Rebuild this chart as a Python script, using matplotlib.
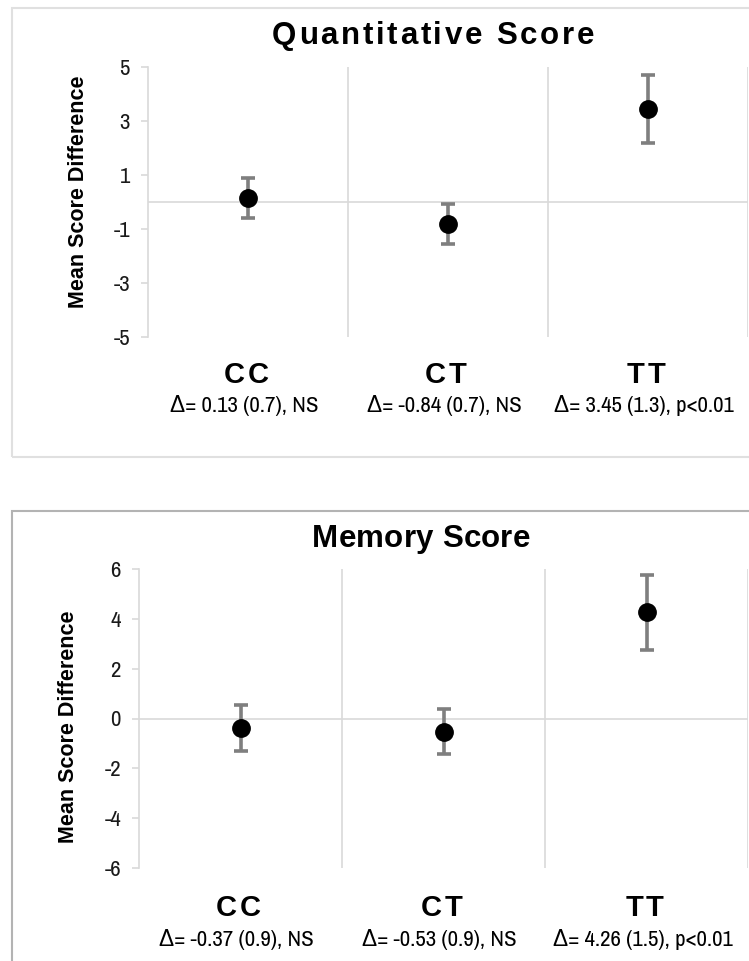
import matplotlib
matplotlib.use("Agg")
import matplotlib.pyplot as plt
from matplotlib.patches import Rectangle
from matplotlib.transforms import blended_transform_factory

categories = ['CC', 'CT', 'TT']
quant_means = [0.13, -0.84, 3.45]
quant_err = [0.75, 0.74, 1.26]
quant_labels = ['Δ= 0.13 (0.7), NS', 'Δ= -0.84 (0.7), NS', 'Δ= 3.45 (1.3), p<0.01']
quant_ticks = [-5, -3, -1, 1, 3, 5]

mem_means = [-0.37, -0.53, 4.26]
mem_err = [0.92, 0.91, 1.50]
mem_labels = ['Δ= -0.37 (0.9), NS', 'Δ= -0.53 (0.9), NS', 'Δ= 4.26 (1.5), p<0.01']
mem_ticks = [-6, -4, -2, 0, 2, 4, 6]

W, H = 749, 961
fig = plt.figure(figsize=(W / 100, H / 100), dpi=100)
NARROW = ['Archivo Narrow', 'Liberation Sans', 'DejaVu Sans']
SANS = ['Liberation Sans', 'DejaVu Sans']
GRID = '#d9d9d9'


def fx(px):
    return px / W


def fy(py):
    return 1 - py / H


renderer = fig.canvas.get_renderer()


def spaced_text(xc_px, yc_px, s, spacing=None, target=None, **kw):
    def width(t):
        tt = fig.text(0, 0, t, **kw)
        w = tt.get_window_extent(renderer).width
        tt.remove()
        return w
    total = width(s)
    n = len(s)
    if target is not None:
        spacing = (target - total) / (n - 1)
    full = total + spacing * (n - 1)
    left = xc_px - full / 2
    for i, ch in enumerate(s):
        if ch == ' ':
            continue
        base = width(s[:i + 1]) - width(ch)
        fig.text(fx(left + base + i * spacing), fy(yc_px), ch, ha='left', va='center', **kw)


# panel boxes
fig.add_artist(Rectangle((fx(12), fy(457)), fx(760) - fx(12), fy(8) - fy(457),
                         transform=fig.transFigure, fill=False, edgecolor='#e0e0e0', lw=1.5))
fig.add_artist(Rectangle((fx(12), fy(990)), fx(760) - fx(12), fy(511) - fy(990),
                         transform=fig.transFigure, fill=False, edgecolor='#b3b3b3', lw=1.5))


def panel(ax_box, means, errs, labels, ticks, title, title_x, title_y, title_w,
          cat_y, lab_y, ylab_x, ylab_y):
    x0, y0, x1, y1 = ax_box
    ax = fig.add_axes([fx(x0), fy(y1), fx(x1) - fx(x0), fy(y0) - fy(y1)])
    xs = list(range(1, len(categories) + 1))
    ax.set_xlim(0.5, len(categories) + 0.5)
    ax.set_ylim(ticks[0], ticks[-1])
    for s in ['top', 'right', 'bottom']:
        ax.spines[s].set_visible(False)
    ax.spines['left'].set_color(GRID)
    ax.spines['left'].set_linewidth(1.2)
    ax.set_xticks([])
    ax.set_yticks(ticks)
    ax.set_yticklabels([str(t) for t in ticks], fontfamily=NARROW, fontsize=16.5)
    ax.tick_params(axis='y', length=5, width=1.2, color=GRID, pad=8, labelcolor='#1a1a1a')
    for b in [1.5, 2.5, 3.5]:
        ax.axvline(b, color=GRID, lw=1.2, zorder=1)
    ax.axhline(0, color=GRID, lw=1.2, zorder=1)
    ax.errorbar(xs, means, yerr=errs, fmt='o', color='black', markersize=12.5,
                ecolor='#7f7f7f', elinewidth=2.6, capsize=4.8, capthick=2.6, zorder=3, clip_on=False)
    ax.patch.set_alpha(0)
    spaced_text(title_x, title_y, title, target=title_w, fontfamily=SANS,
                fontsize=22.5, fontweight='bold', color='black')
    tr = blended_transform_factory(ax.transData, fig.transFigure)
    for x, c, lab in zip(xs, categories, labels):
        xp = ax.transData.transform((x, 0))[0]
        spaced_text(xp - 2, cat_y, c, spacing=3, fontfamily=SANS, fontsize=21,
                    fontweight='bold', color='black')
        ax.text(x - 0.02, fy(lab_y), lab, transform=tr, ha='center', va='center',
                fontfamily=NARROW, fontsize=16.5, color='black')
    fig.text(fx(ylab_x), fy(ylab_y), 'Mean Score Difference', rotation=90, ha='center', va='center',
             fontfamily=SANS, fontsize=15.5, fontweight='bold', color='black')
    return ax


panel((148, 66.7, 748, 336.7), quant_means, quant_err, quant_labels, quant_ticks,
      'Quantitative Score', 433, 36, 323, 375, 405, 78, 192)
panel((139, 569, 748, 868), mem_means, mem_err, mem_labels, mem_ticks,
      'Memory Score', 421, 539, 218, 908, 940, 68, 727)

fig.savefig('out.png', dpi=100)
